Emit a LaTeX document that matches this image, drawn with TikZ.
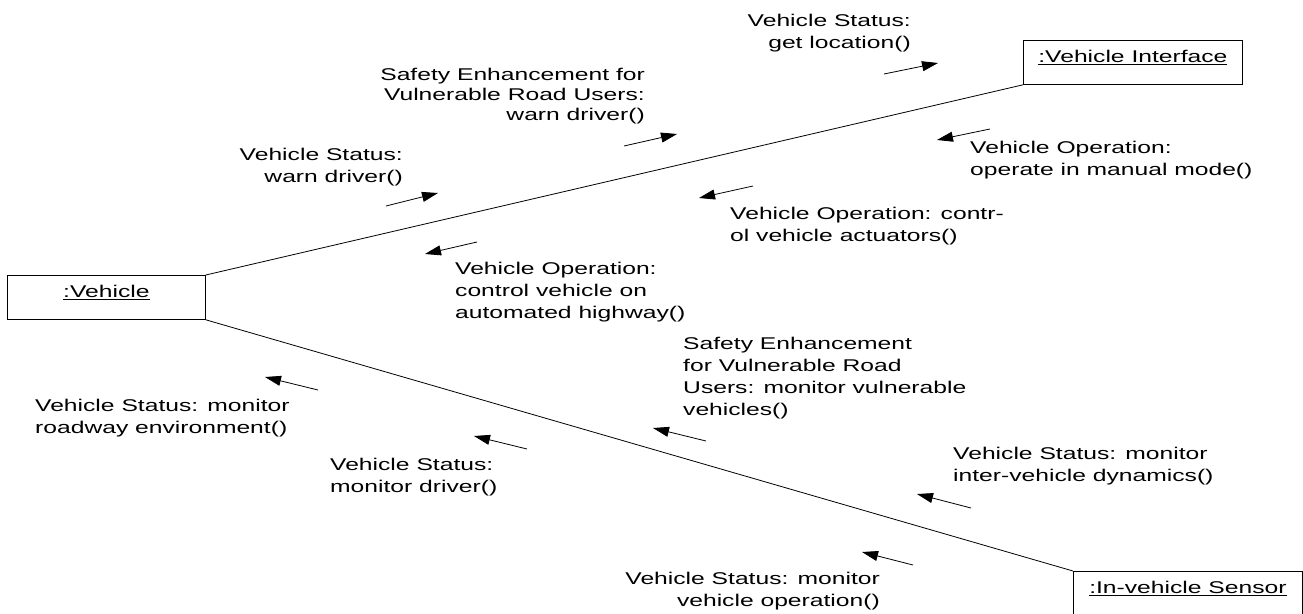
\documentclass[tikz,border=0pt]{standalone}
\usepackage{fontspec}
\setmainfont{Liberation Sans}[FakeStretch=1.45]
\usetikzlibrary{arrows.meta}

\begin{document}
\begin{tikzpicture}[x=1pt, y=-1pt,
    objbox/.style={draw, line width=0.8pt, inner xsep=0pt, inner ysep=4pt, text height=18pt, text depth=18pt, font=\fontsize{17}{21}\selectfont},
    msgl/.style={inner sep=0pt, align=left, anchor=north west, font=\fontsize{17}{22}\selectfont},
    msgr/.style={inner sep=0pt, align=right, anchor=north east, font=\fontsize{17}{22}\selectfont},
    link/.style={line width=0.8pt},
    msgarrow/.style={line width=0.8pt, -{Triangle[length=16pt,width=10pt]}}]
	\useasboundingbox (0,0) rectangle (1303,613);
	\node[objbox, anchor=north west, minimum width=198pt] (veh) at (7,275) {\underline{:Vehicle}};
	\node[objbox, anchor=north west, minimum width=219pt] (vif) at (1023,40) {\underline{:Vehicle Interface}};
	\node[objbox, anchor=north west, minimum width=229pt] (sen) at (1073,571) {\underline{:In-vehicle Sensor}};
	\draw[link] (veh.north east) -- (vif.south west);
	\draw[link] (veh.south east) -- (sen.north west);
	% messages on the upper link
	\node[msgr] (getloc) at (911,14) {Vehicle Status:\\get location()};
	\coordinate (a1s) at (884,74); \coordinate (a1e) at (938,63);
	\draw[msgarrow] (a1s) -- (a1e);
	\node[msgr, font=\fontsize{17}{20}\selectfont] (vruwarn) at (645,68) {Safety Enhancement for\\Vulnerable Road Users:\\warn driver()};
	\coordinate (a2s) at (624,146); \coordinate (a2e) at (677,134);
	\draw[msgarrow] (a2s) -- (a2e);
	\node[msgr] (warn) at (403,148) {Vehicle Status:\\warn driver()};
	\coordinate (a3s) at (386,206); \coordinate (a3e) at (438,193);
	\draw[msgarrow] (a3s) -- (a3e);
	\node[msgl] (manual) at (970,141) {Vehicle Operation:\\operate in manual mode()};
	\coordinate (a4s) at (990,129); \coordinate (a4e) at (937,140);
	\draw[msgarrow] (a4s) -- (a4e);
	\node[msgl] (actu) at (730,207) {Vehicle Operation: contr-\\ol vehicle actuators()};
	\coordinate (a5s) at (753,186); \coordinate (a5e) at (699,198);
	\draw[msgarrow] (a5s) -- (a5e);
	\node[msgl] (ahs) at (455,262) {Vehicle Operation:\\control vehicle on\\automated highway()};
	\coordinate (a6s) at (477,242); \coordinate (a6e) at (425,254);
	\draw[msgarrow] (a6s) -- (a6e);
	% messages on the lower link
	\node[msgl] (roadway) at (35,399) {Vehicle Status: monitor\\roadway environment()};
	\coordinate (a7s) at (318,390); \coordinate (a7e) at (265,377);
	\draw[msgarrow] (a7s) -- (a7e);
	\node[msgl] (driver) at (330,458) {Vehicle Status:\\monitor driver()};
	\coordinate (a8s) at (527,449); \coordinate (a8e) at (474,436);
	\draw[msgarrow] (a8s) -- (a8e);
	\node[msgl] (vrumon) at (683,337) {Safety Enhancement\\for Vulnerable Road\\Users: monitor vulnerable\\vehicles()};
	\coordinate (a9s) at (706,441); \coordinate (a9e) at (653,428);
	\draw[msgarrow] (a9s) -- (a9e);
	\node[msgl] (dyn) at (953,447) {Vehicle Status: monitor\\inter-vehicle dynamics()};
	\coordinate (a10s) at (971,508); \coordinate (a10e) at (917,494);
	\draw[msgarrow] (a10s) -- (a10e);
	\node[msgr] (oper) at (880,572) {Vehicle Status: monitor\\vehicle operation()};
	\coordinate (a11s) at (913,565); \coordinate (a11e) at (862,552);
	\draw[msgarrow] (a11s) -- (a11e);
\end{tikzpicture}
\end{document}
